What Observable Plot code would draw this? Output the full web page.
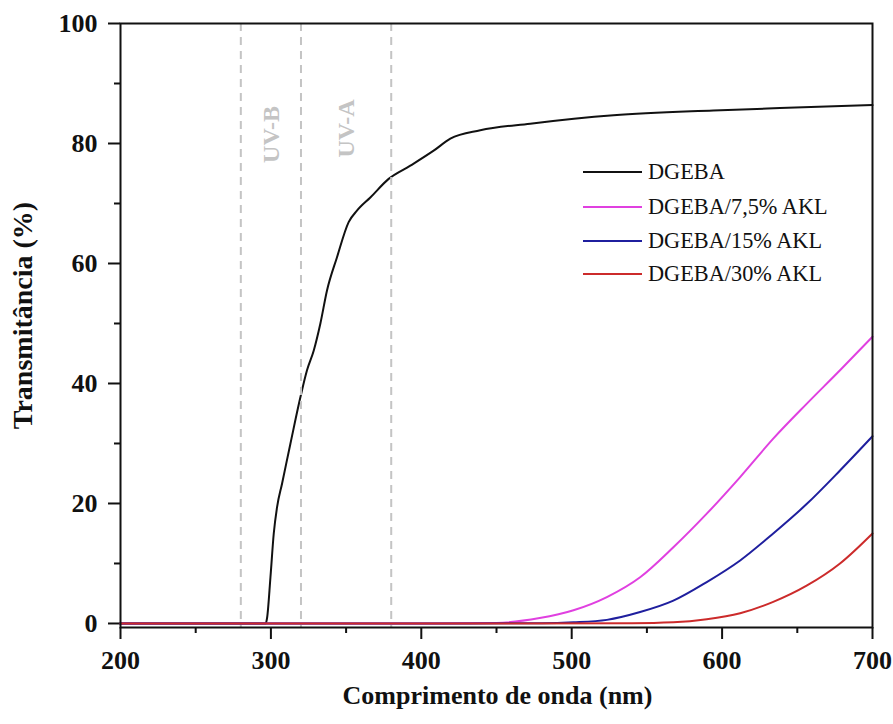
<!DOCTYPE html>
<html>
<head>
<meta charset="utf-8">
<script src="https://cdn.jsdelivr.net/npm/d3@7"></script>
<script src="https://cdn.jsdelivr.net/npm/@observablehq/plot@0.6"></script>
<style>
  html, body { margin: 0; padding: 0; background: #fff; }
  #wrap { position: relative; width: 893px; height: 724px; }
  .leg { position: absolute; left: 583px; font-family: "Liberation Serif", "Times New Roman", serif; font-size: 22.3px; color: #111; display: flex; align-items: center; white-space: nowrap; }
  .leg span.sw { display: inline-block; width: 59px; height: 2px; margin-right: 6px; }
</style>
</head>
<body>
<div id="wrap"></div>
<script>
// ---- data ----
const seriesNames = ["DGEBA", "DGEBA/7,5% AKL", "DGEBA/15% AKL", "DGEBA/30% AKL"];
const seriesColors = ["#111111", "#e040e0", "#1f1f9e", "#cc2b2b"];

const dgebaWl = [200, 250, 296.5, 297.5, 299.7, 301.9, 304.1, 307.4, 313, 319.6, 324, 328.5, 332.9, 337.3, 343.9, 351.7, 357.2, 366.1, 378.3, 392.7, 408.2, 419.3, 439.2, 472.4, 527.8, 594.2, 638.5, 700];
const dgebaT  = [0, 0, 0, 1, 7.7, 15, 19.4, 23.3, 30, 37.7, 42.2, 45.5, 50, 55.5, 61, 66.9, 68.8, 71, 74.1, 76.3, 78.8, 80.8, 82.2, 83.3, 84.7, 85.5, 85.9, 86.4];

const akl75Wl = [200, 300, 400, 450, 478.7, 501.2, 523.4, 545.5, 567.6, 589.8, 612, 634, 656.2, 678.4, 700];
const akl75T  = [0, 0, 0, 0.1, 0.9, 2.2, 4.4, 7.7, 12.7, 18.3, 24.4, 30.8, 36.6, 42.2, 47.8];

const akl15Wl = [200, 300, 400, 480, 501.2, 523.4, 545.5, 567.6, 589.8, 612, 634, 656.2, 678.4, 700];
const akl15T  = [0, 0, 0, 0.05, 0.2, 0.6, 1.9, 3.8, 6.9, 10.5, 15, 19.9, 25.5, 31.2];

const akl30Wl = [200, 300, 450, 540, 567.6, 589.8, 612, 634, 656.2, 678.4, 700];
const akl30T  = [0, 0, 0, 0.05, 0.2, 0.7, 1.7, 3.6, 6.3, 10, 15];

const bandLines = [280, 320, 380];
const bandLabels = ["UV-B", "UV-A"];
const bandLabelX = [300, 350];
const bandLabelY = [81.5, 82.5];

const xTicks = [200, 300, 400, 500, 600, 700];
const xMinor = [250, 350, 450, 550, 650];
const yTicks = [0, 20, 40, 60, 80, 100];
const yMinor = [10, 30, 50, 70, 90];

const xTitle = "Comprimento de onda (nm)";
const yTitle = "Transmitância (%)";

// ---- build table ----
const allWl = [dgebaWl, akl75Wl, akl15Wl, akl30Wl];
const allT = [dgebaT, akl75T, akl15T, akl30T];
const rows = [];
allWl.forEach((wl, s) => wl.forEach((x, i) => rows.push({series: seriesNames[s], x, y: allT[s][i]})));
const baseRows = rows.filter(d => d.series === seriesNames[0]);
const aklRows = rows.filter(d => d.series !== seriesNames[0]);
const bandText = bandLabels.map((t, i) => ({t, x: bandLabelX[i], y: bandLabelY[i]}));

const font = '"Liberation Serif", "Times New Roman", serif';

const chart = Plot.plot({
  width: 893,
  height: 724,
  marginLeft: 120,
  marginRight: 21,
  marginTop: 23,
  marginBottom: 97,
  style: {fontFamily: font, fontSize: "26px", fontWeight: "bold", color: "#111", background: "#fff"},
  x: {domain: [200, 700]},
  y: {domain: [-0.67, 100]},
  color: {domain: seriesNames, range: seriesColors},
  marks: [
    Plot.axisX({ticks: xTicks, tickSize: 12, tickPadding: 11, strokeWidth: 2, label: null, fontSize: 26}),
    Plot.axisX({ticks: xMinor, tickSize: 6, tickFormat: () => "", strokeWidth: 2, label: null}),
    Plot.axisY({ticks: yTicks, tickSize: 12, tickPadding: 11, strokeWidth: 2, label: null, fontSize: 26}),
    Plot.axisY({ticks: yMinor, tickSize: 6, tickFormat: () => "", strokeWidth: 2, label: null}),
    Plot.line(baseRows, {x: "x", y: "y", z: "series", stroke: "series", strokeWidth: 2, curve: "monotone-x"}),
    Plot.line(aklRows, {x: "x", y: "y", z: "series", stroke: "series", strokeWidth: 2, curve: "monotone-x"}),
    Plot.ruleX(bandLines, {stroke: "#c4c4c4", strokeWidth: 2, strokeDasharray: "8,6"}),
    Plot.text(bandText, {x: "x", y: "y", text: "t", rotate: -90, fill: "#c4c4c4", fontSize: 24, fontWeight: "bold"}),
    Plot.frame({stroke: "#111", strokeWidth: 2}),
    Plot.text([yTitle], {frameAnchor: "left", textAnchor: "middle", dx: -97, dy: -10, rotate: -90, fontSize: 28, fontWeight: "bold", lineAnchor: "middle"}),
    Plot.text([xTitle], {frameAnchor: "bottom", dx: 1, dy: 68, fontSize: 26, fontWeight: "bold", lineAnchor: "middle"})
  ]
});

const wrap = document.getElementById("wrap");
wrap.appendChild(chart);

// legend overlay
const legTops = [172, 207, 241, 274];
seriesNames.forEach((name, i) => {
  const d = document.createElement("div");
  d.className = "leg";
  d.style.top = (legTops[i] - 13) + "px";
  d.style.height = "26px";
  const sw = document.createElement("span");
  sw.className = "sw";
  sw.style.background = seriesColors[i];
  d.appendChild(sw);
  d.appendChild(document.createTextNode(name));
  wrap.appendChild(d);
});
</script>
</body>
</html>
